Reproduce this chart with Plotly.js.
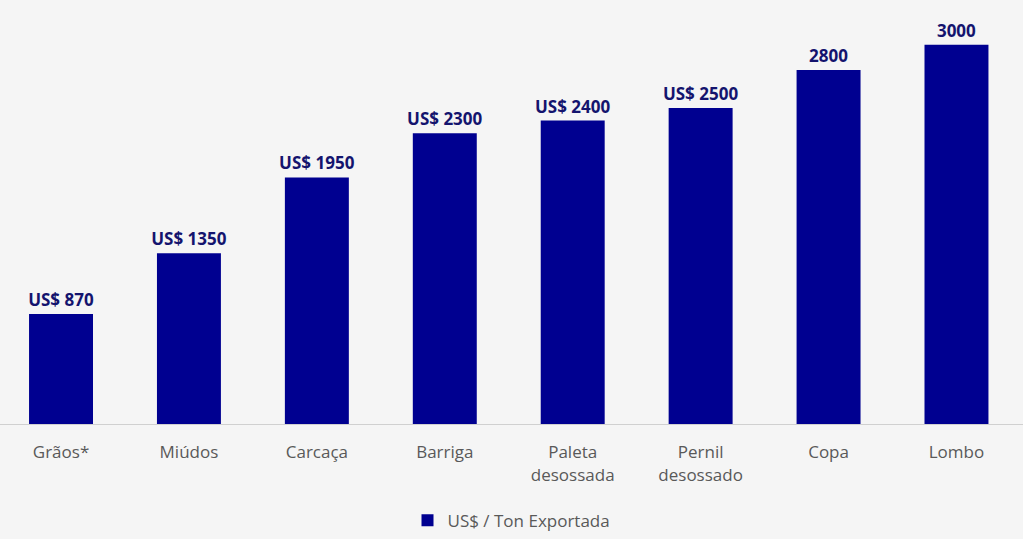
<!DOCTYPE html>
<html>
<head>
<meta charset="utf-8">
<script src="https://cdn.plot.ly/plotly-3.0.1.min.js"></script>
<style>html,body{margin:0;padding:0;background:#f5f5f5;}#chart{width:1023px;height:539px;}</style>
</head>
<body>
<div id="chart"></div>
<script>
var categories = ["Grãos*", "Miúdos", "Carcaça", "Barriga", "Paleta<br>desossada", "Pernil<br>desossado", "Copa", "Lombo"];
var values = [870, 1350, 1950, 2300, 2400, 2500, 2800, 3000];
var valueLabels = ["US$ 870", "US$ 1350", "US$ 1950", "US$ 2300", "US$ 2400", "US$ 2500", "2800", "3000"];
var seriesName = "US$ / Ton Exportada";

var trace = {
  type: "bar",
  x: categories,
  y: values,
  name: seriesName,
  text: valueLabels,
  textposition: "outside",
  constraintext: "none",
  cliponaxis: false,
  textfont: {family: "Open Sans, sans-serif", size: 17, color: "#14146e", weight: "bold"},
  marker: {color: "#000090"},
  width: 0.5,
  showlegend: true,
  hoverinfo: "skip"
};

var layout = {
  width: 1023, height: 539,
  paper_bgcolor: "#f5f5f5",
  plot_bgcolor: "#f5f5f5",
  margin: {l: 0, r: 0, t: 0, b: 113},
  font: {family: "Open Sans, sans-serif", color: "#595959"},
  xaxis: {
    range: [-0.477, 7.52],
    showline: true, linecolor: "#d0d0d0", linewidth: 1,
    ticks: "", showgrid: false, zeroline: false,
    tickfont: {size: 17, color: "#595959"},
    ticklabelstandoff: 13
  },
  yaxis: {
    range: [0, 3354],
    visible: false, showgrid: false, zeroline: false
  },
  showlegend: true,
  legend: {
    orientation: "h", x: 0.5, xanchor: "center", y: -0.228, yanchor: "middle",
    font: {size: 17, color: "#595959"},
    bgcolor: "rgba(0,0,0,0)"
  },
  bargap: 0.5
};

Plotly.newPlot("chart", [trace], layout, {displayModeBar: false, staticPlot: true});
</script>
</body>
</html>
